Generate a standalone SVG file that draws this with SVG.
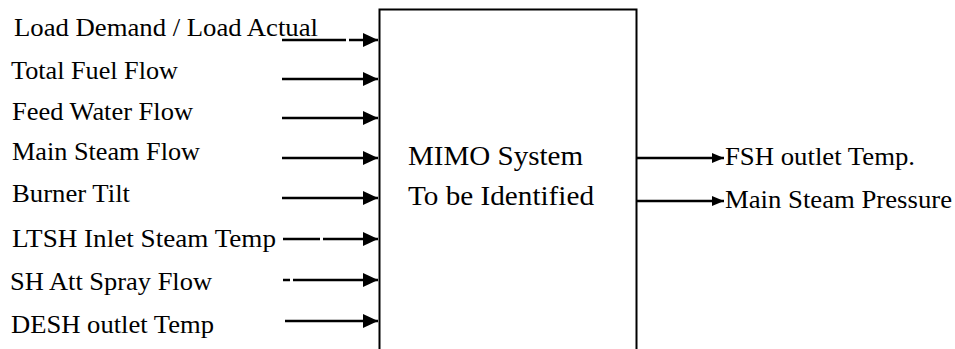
<svg xmlns="http://www.w3.org/2000/svg" width="955" height="349" viewBox="0 0 955 349">
<defs>
<marker id="ah" viewBox="0 0 15 14" refX="15" refY="7" markerWidth="15" markerHeight="14" markerUnits="userSpaceOnUse" orient="auto"><path d="M0,0 L15,7 L0,14 Z" fill="#000"/></marker>
<marker id="as" viewBox="0 0 12 10" refX="12" refY="5" markerWidth="12" markerHeight="10" markerUnits="userSpaceOnUse" orient="auto"><path d="M0,0 L12,5 L0,10 Z" fill="#000"/></marker>
</defs>
<g font-family="Liberation Serif, Times New Roman, serif" font-size="26" fill="#000">
<g id="mimo">
<path d="M379.5,360 V9.5 H636.5 V360" stroke="#000" stroke-width="2" fill="#fff"/>
<text font-size="27" x="408" y="165" textLength="175" lengthAdjust="spacingAndGlyphs">MIMO System</text>
<text font-size="27" x="408" y="205" textLength="186" lengthAdjust="spacingAndGlyphs">To be Identified</text>
</g>
<g id="inputs">
<g id="in1"><text x="14" y="36" textLength="304" lengthAdjust="spacingAndGlyphs">Load Demand / Load Actual</text></g>
<g id="in2"><text x="11" y="79" textLength="167" lengthAdjust="spacingAndGlyphs">Total Fuel Flow</text></g>
<g id="in3"><text x="12" y="120" textLength="181" lengthAdjust="spacingAndGlyphs">Feed Water Flow</text></g>
<g id="in4"><text x="12" y="160" textLength="188" lengthAdjust="spacingAndGlyphs">Main Steam Flow</text></g>
<g id="in5"><text x="12" y="202" textLength="118" lengthAdjust="spacingAndGlyphs">Burner Tilt</text></g>
<g id="in6"><text x="12" y="247" textLength="264" lengthAdjust="spacingAndGlyphs">LTSH Inlet Steam Temp</text></g>
<g id="in7"><text x="10" y="290" textLength="202" lengthAdjust="spacingAndGlyphs">SH Att Spray Flow</text></g>
<g id="in8"><text x="11" y="333" textLength="203" lengthAdjust="spacingAndGlyphs">DESH outlet Temp</text></g>
</g>
<g id="outputs">
<g id="out1"><text x="725" y="165" textLength="190" lengthAdjust="spacingAndGlyphs">FSH outlet Temp.</text></g>
<g id="out2"><text x="725" y="208" textLength="227" lengthAdjust="spacingAndGlyphs">Main Steam Pressure</text></g>
</g>
</g>
<g id="connectors" stroke="#000" stroke-width="2.5" fill="none">
<line x1="282" y1="40" x2="346" y2="40"/>
<line x1="349" y1="40" x2="378" y2="40" marker-end="url(#ah)"/>
<line x1="282" y1="79" x2="378" y2="79" marker-end="url(#ah)"/>
<line x1="282" y1="118" x2="378" y2="118" marker-end="url(#ah)"/>
<line x1="282" y1="158" x2="378" y2="158" marker-end="url(#ah)"/>
<line x1="282" y1="198" x2="378" y2="198" marker-end="url(#ah)"/>
<line x1="283" y1="239" x2="320" y2="239"/>
<line x1="323" y1="239" x2="378" y2="239" marker-end="url(#ah)"/>
<line x1="283" y1="280" x2="290" y2="280"/>
<line x1="293" y1="280" x2="378" y2="280" marker-end="url(#ah)"/>
<line x1="285" y1="321" x2="378" y2="321" marker-end="url(#ah)"/>
<line x1="637" y1="158" x2="724" y2="158" marker-end="url(#as)"/>
<line x1="637" y1="201" x2="724" y2="201" marker-end="url(#as)"/>
</g>
</svg>
